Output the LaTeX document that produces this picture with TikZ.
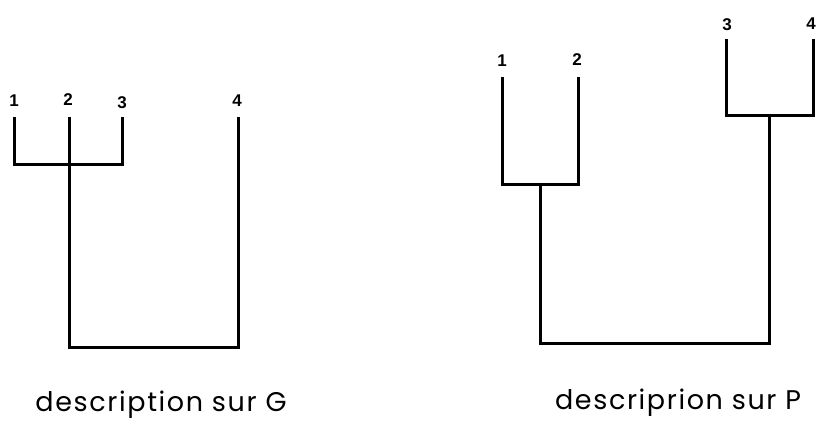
\documentclass[tikz,border=0pt]{standalone}
\usepackage{fontspec}
\setmainfont{Liberation Sans}
\newfontfamily\capfont[LetterSpace=6]{Poppins}
\begin{document}
\begin{tikzpicture}[x=1pt,y=-1pt,
  br/.style={line width=3pt,line cap=rect,line join=miter},
  lab/.style={font=\fontsize{17}{18}\selectfont\bfseries,inner sep=0pt},
  captext/.style={font=\capfont\fontsize{27}{29}\selectfont,inner sep=0pt}]
\useasboundingbox (0,0) rectangle (816,426);
% left dendrogram
\coordinate (a1) at (14,118);
\coordinate (a2) at (69,118);
\coordinate (a3) at (122,118);
\coordinate (a4) at (238,118);
\node[lab] (la1) at (14,101) {1};
\node[lab] (la2) at (68,100) {2};
\node[lab] (la3) at (122,103) {3};
\node[lab] (la4) at (237,101) {4};
\coordinate (j123) at (69,164);
\coordinate (jall) at (69,347);
\draw[br] (a1) |- (j123) -| (a3);
\draw[br] (a2) -- (jall) -| (a4);
% right dendrogram
\coordinate (b1) at (502,78);
\coordinate (b2) at (578,78);
\coordinate (b3) at (726,40);
\coordinate (b4) at (813,40);
\node[lab] (lb1) at (502,61) {1};
\node[lab] (lb2) at (577,60) {2};
\node[lab] (lb3) at (727,25) {3};
\node[lab] (lb4) at (811,24) {4};
\coordinate (j12) at (540,184);
\coordinate (j34) at (769,115);
\coordinate (jb) at (540,343);
\draw[br] (b1) |- (j12) -| (b2);
\draw[br] (b3) |- (j34) -| (b4);
\draw[br] (j12) -- (jb) -| (j34);
% captions
\node[captext] (cg) at (161,405) {description sur G};
\node[captext] (cp) at (678,403) {descriprion sur P};
\end{tikzpicture}
\end{document}
